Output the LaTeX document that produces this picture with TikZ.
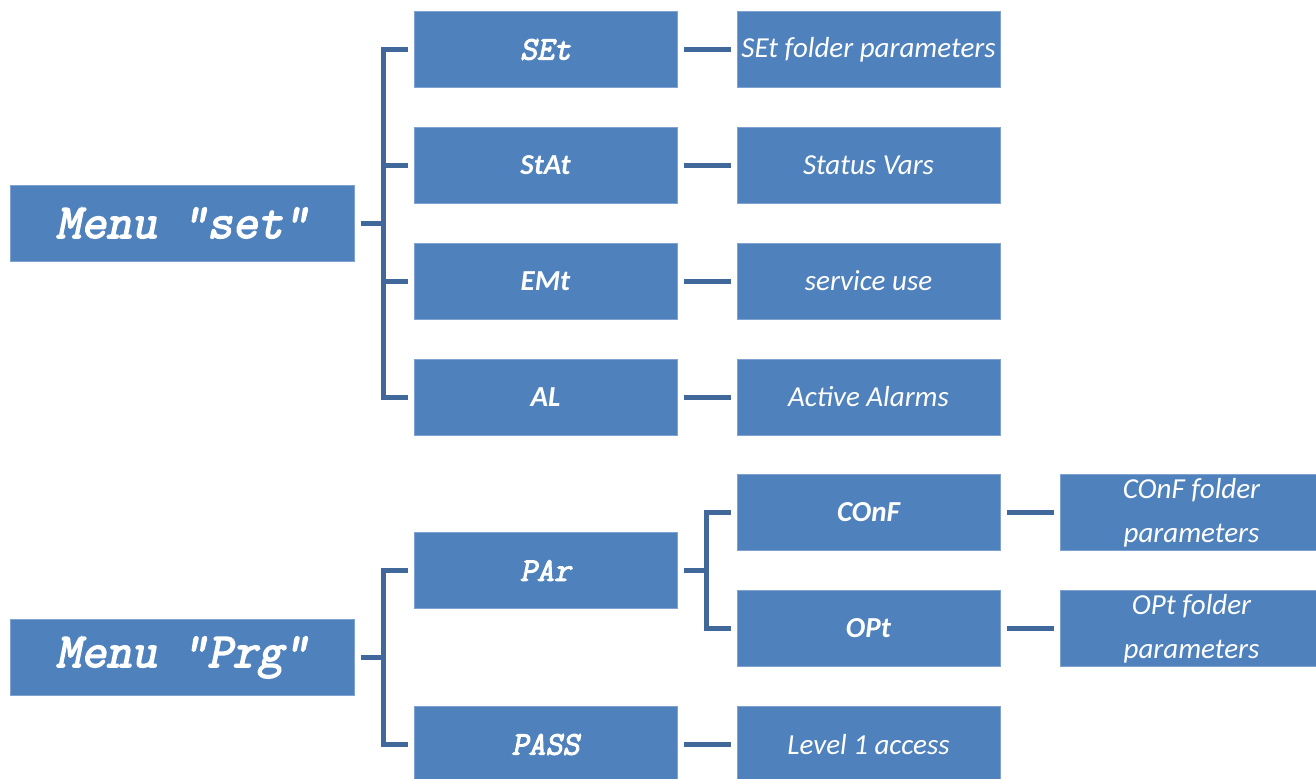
\documentclass[tikz,border=0pt]{standalone}
\usepackage{fontspec}
\setmainfont{Carlito}
\newfontfamily\courbi[FakeBold=3,FakeSlant=0.2]{Latin Modern Mono}
\definecolor{boxfill}{HTML}{4F81BD}
\definecolor{boxline}{HTML}{7FA2D0}
\definecolor{conn}{HTML}{41689A}
\begin{document}
\begin{tikzpicture}[x=0.5pt,y=-0.5pt,
  box/.style={draw=boxline,line width=0.5pt,fill=boxfill,text=white,inner sep=0pt,
    minimum width=131.5pt,minimum height=38pt,align=center},
  menubox/.style={box,minimum width=172pt,font=\courbi\fontsize{24.5}{26}\selectfont},
  codebox/.style={box,font=\courbi\fontsize{16.5}{18}\selectfont},
  keybox/.style={box,font=\fontsize{14.5}{18}\selectfont\bfseries\itshape},
  descbox/.style={box,font=\fontsize{14.5}{22}\selectfont\itshape},
  wire/.style={draw=conn,line width=2.5pt}]
\useasboundingbox (0,0) rectangle (1316,778);
% top group
\node[menubox] (mset) at (182,223) {Menu "set"};
\node[codebox] (set) at (545.5,49.5) {SEt};
\node[keybox] (stat) at (545.5,165.5) {StAt};
\node[keybox] (emt) at (545.5,281) {EMt};
\node[keybox] (al) at (545.5,397) {AL};
\node[descbox] (setd) at (868.5,49.5) {SEt folder parameters};
\node[descbox] (statd) at (868.5,165.5) {Status Vars};
\node[descbox] (emtd) at (868.5,281) {service use};
\node[descbox] (ald) at (868.5,397) {Active Alarms};
% bottom group
\node[menubox] (mprg) at (182,657.5) {Menu "Prg"};
\node[codebox] (par) at (545.5,570.5) {PAr};
\node[codebox] (pass) at (545.5,744.5) {PASS};
\node[keybox] (conf) at (868.5,512.5) {COnF};
\node[keybox] (opt) at (868.5,628.5) {OPt};
\node[descbox] (passd) at (868.5,744.5) {Level 1 access};
\node[descbox] (confd) at (1191.5,512.5) {COnF folder\\parameters};
\node[descbox] (optd) at (1191.5,628.5) {OPt folder\\parameters};
% brackets
\coordinate (bs) at (383,223);
\draw[wire] ([xshift=3pt]mset.east) -- (bs);
\draw[wire] ([xshift=-3pt]set.west) -| (bs) |- ([xshift=-3pt]al.west);
\draw[wire] (bs |- stat.west) -- ([xshift=-3pt]stat.west);
\draw[wire] (bs |- emt.west) -- ([xshift=-3pt]emt.west);
\coordinate (bp) at (383,657.5);
\draw[wire] ([xshift=3pt]mprg.east) -- (bp);
\draw[wire] ([xshift=-3pt]par.west) -| (bp) |- ([xshift=-3pt]pass.west);
\coordinate (bq) at (706,570.5);
\draw[wire] ([xshift=3pt]par.east) -- (bq);
\draw[wire] ([xshift=-3pt]conf.west) -| (bq) |- ([xshift=-3pt]opt.west);
% straight links
\foreach \a/\b in {set/setd,stat/statd,emt/emtd,al/ald,conf/confd,opt/optd}
  \draw[wire] ([xshift=3pt]\a.east) -- ([xshift=-3pt]\b.west);
\draw[wire] ([xshift=3pt]pass.east) -- ([xshift=-3pt]passd.west);
\end{tikzpicture}
\end{document}
